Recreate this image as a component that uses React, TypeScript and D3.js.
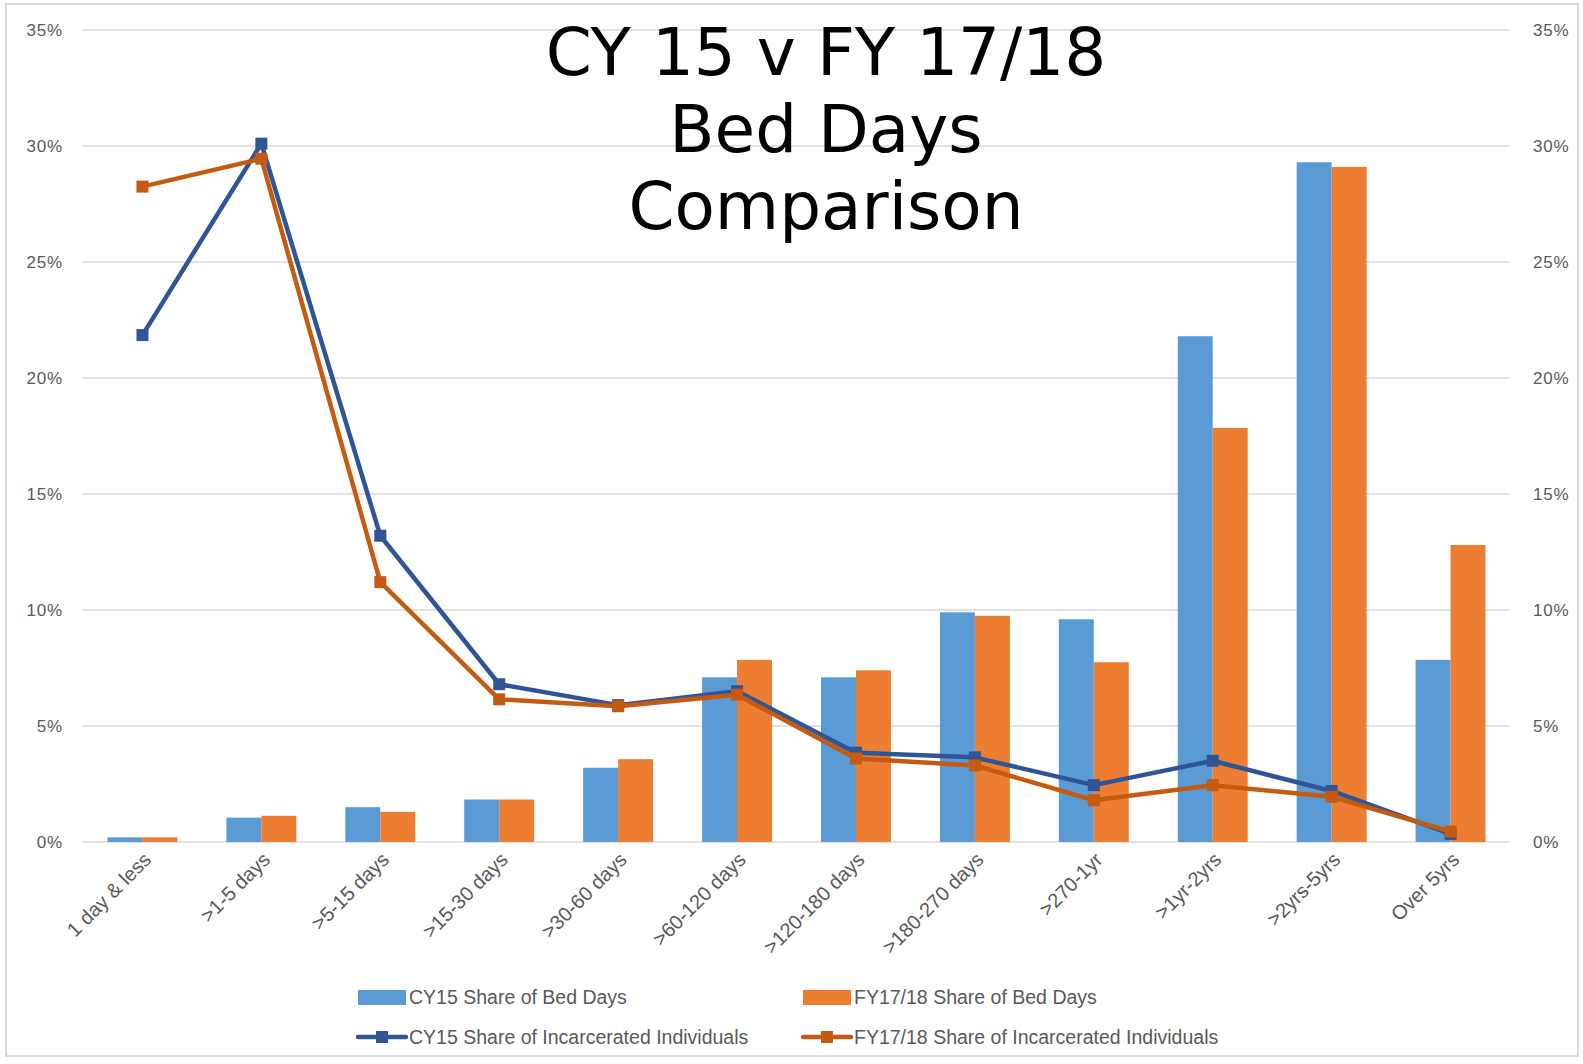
import * as d3 from 'd3';

// Length-of-stay buckets
const categories = [
  '1 day & less', '>1-5 days', '>5-15 days', '>15-30 days', '>30-60 days', '>60-120 days',
  '>120-180 days', '>180-270 days', '>270-1yr', '>1yr-2yrs', '>2yrs-5yrs', 'Over 5yrs',
];

// Share of bed days (%)
const cy15BedDays = [0.2, 1.05, 1.5, 1.83, 3.2, 7.1, 7.1, 9.9, 9.6, 21.8, 29.3, 7.85];
const fy1718BedDays = [0.2, 1.13, 1.3, 1.83, 3.57, 7.85, 7.4, 9.75, 7.75, 17.85, 29.1, 12.8];

// Share of incarcerated individuals (%)
const cy15Individuals = [21.85, 30.1, 13.2, 6.8, 5.9, 6.5, 3.85, 3.65, 2.45, 3.5, 2.2, 0.35];
const fy1718Individuals = [28.25, 29.45, 11.2, 6.15, 5.85, 6.35, 3.6, 3.3, 1.8, 2.45, 1.95, 0.45];

const yTicks = [0, 5, 10, 15, 20, 25, 30, 35];
const titleLines = ['CY 15 v FY 17/18', 'Bed Days', 'Comparison'];

const width = 1583;
const height = 1064;
const plotLeft = 83;
const plotRight = 1510;
const plotTop = 30;
const plotBottom = 842;

const colors = {
  cyBar: '#5B9BD5',
  fyBar: '#ED7D31',
  cyLine: '#2F5597',
  fyLine: '#C55A11',
};

const axisFont = '"Liberation Sans Narrow", "Liberation Sans", sans-serif';

export default function App() {
  const x = d3.scaleBand<string>().domain(categories).range([plotLeft, plotRight]).padding(0);
  const xSub = d3.scaleBand<string>().domain(['cy', 'fy']).range([0, x.bandwidth()]).paddingInner(0).paddingOuter(0.7);
  const y = d3.scaleLinear().domain([0, 35]).range([plotBottom, plotTop]);

  const line = d3.line<number>()
    .x((_, i) => (x(categories[i]) ?? 0) + x.bandwidth() / 2)
    .y(d => y(d));

  const barSeries = [
    { key: 'cy', values: cy15BedDays, color: colors.cyBar },
    { key: 'fy', values: fy1718BedDays, color: colors.fyBar },
  ];
  const lineSeries = [
    { key: 'cy', values: cy15Individuals, color: colors.cyLine },
    { key: 'fy', values: fy1718Individuals, color: colors.fyLine },
  ];

  const legend = [
    { label: 'CY15 Share of Bed Days', color: colors.cyBar, type: 'bar', x: 358, y: 997 },
    { label: 'FY17/18 Share of Bed Days', color: colors.fyBar, type: 'bar', x: 803, y: 997 },
    { label: 'CY15 Share of Incarcerated Individuals', color: colors.cyLine, type: 'line', x: 358, y: 1037 },
    { label: 'FY17/18 Share of Incarcerated Individuals', color: colors.fyLine, type: 'line', x: 803, y: 1037 },
  ];

  return (
    <svg width={width} height={height} style={{ position: 'absolute', left: 0, top: 0, background: '#fff' }}>
      {/* chart frame */}
      <rect x={6} y={4} width={1572} height={1052} fill="#fff" stroke="#d9d9d9" strokeWidth={2} />

      {/* gridlines and both y axes */}
      {yTicks.map(t => (
        <g key={t}>
          <line x1={plotLeft} x2={plotRight} y1={y(t)} y2={y(t)} stroke="#d9d9d9" strokeWidth={1.5} />
          <text x={63} y={y(t)} dy="0.35em" textAnchor="end" fontSize={17} letterSpacing={0.8} fill="#595959" fontFamily={axisFont}>{t}%</text>
          <text x={1533} y={y(t)} dy="0.35em" textAnchor="start" fontSize={17} letterSpacing={0.8} fill="#595959" fontFamily={axisFont}>{t}%</text>
        </g>
      ))}

      {/* bars */}
      {barSeries.map(s => (
        <g key={s.key}>
          {s.values.map((v, i) => (
            <rect
              key={i}
              x={(x(categories[i]) ?? 0) + (xSub(s.key) ?? 0)}
              y={y(v)}
              width={xSub.bandwidth()}
              height={y(0) - y(v)}
              fill={s.color}
            />
          ))}
        </g>
      ))}

      {/* lines with square markers */}
      {lineSeries.map(s => (
        <g key={s.key}>
          <path d={line(s.values) ?? ''} fill="none" stroke={s.color} strokeWidth={4.5} strokeLinejoin="round" />
          {s.values.map((v, i) => (
            <rect
              key={i}
              x={(x(categories[i]) ?? 0) + x.bandwidth() / 2 - 6}
              y={y(v) - 6}
              width={12}
              height={12}
              fill={s.color}
            />
          ))}
        </g>
      ))}

      {/* x axis labels */}
      {categories.map(c => {
        const cx = (x(c) ?? 0) + x.bandwidth() / 2 + 5;
        return (
          <text
            key={c}
            transform={`translate(${cx},${plotBottom + 14}) rotate(-45)`}
            textAnchor="end"
            dy="0.35em"
            fontSize={20}
            fill="#595959"
            fontFamily={axisFont}
          >
            {c}
          </text>
        );
      })}

      {/* title */}
      {titleLines.map((t, i) => (
        <text
          key={t}
          x={826}
          y={75 + i * 77}
          textAnchor="middle"
          fontSize={66}
          fill="#000"
          fontFamily='"DejaVu Sans", Verdana, sans-serif'
        >
          {t}
        </text>
      ))}

      {/* legend */}
      {legend.map(l => (
        <g key={l.label} transform={`translate(${l.x},${l.y})`}>
          {l.type === 'bar' ? (
            <rect x={0} y={-7} width={48} height={15} fill={l.color} />
          ) : (
            <g>
              <line x1={0} x2={48} y1={0} y2={0} stroke={l.color} strokeWidth={4.5} strokeLinecap="round" />
              <rect x={18} y={-6} width={12} height={12} fill={l.color} />
            </g>
          )}
          <text x={51} y={0} dy="0.35em" fontSize={19.5} fill="#595959" fontFamily={axisFont}>{l.label}</text>
        </g>
      ))}
    </svg>
  );
}
